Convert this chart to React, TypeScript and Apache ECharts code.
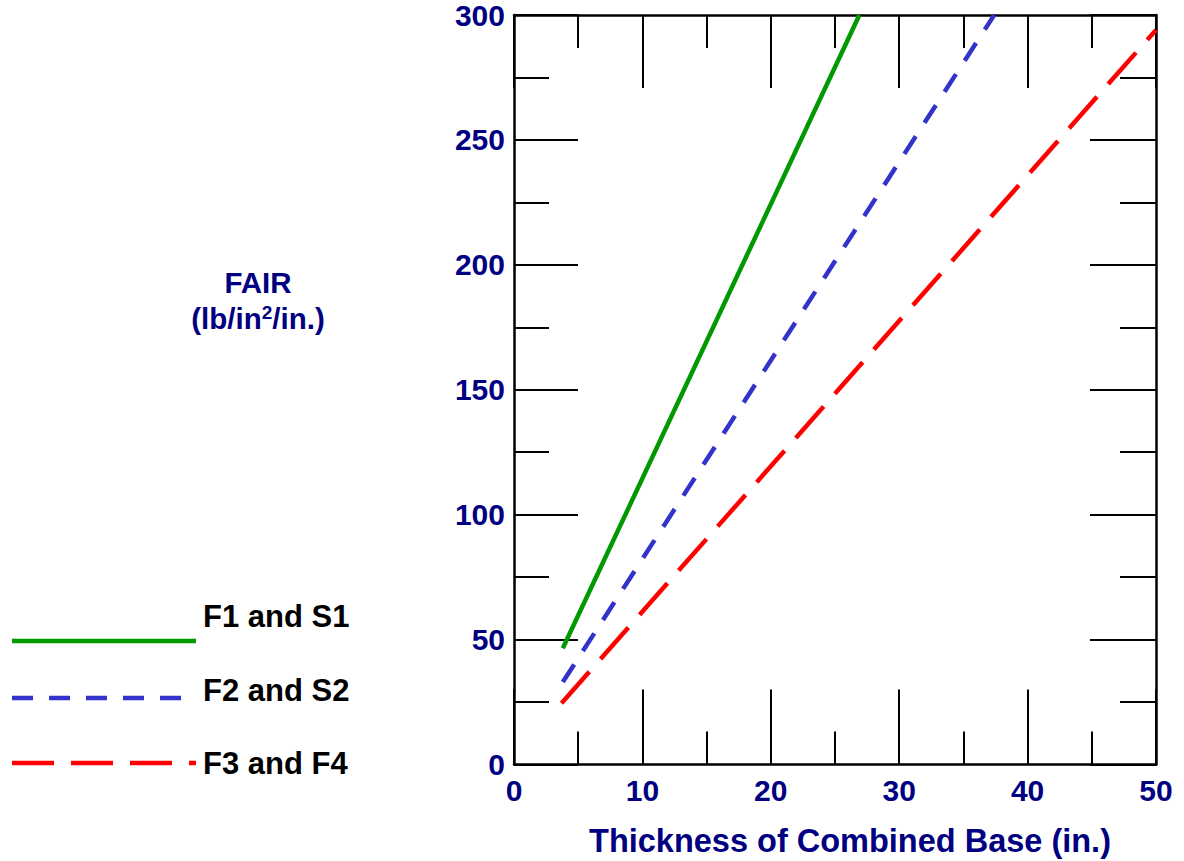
import React, { useEffect, useRef } from "react";
import * as echarts from "echarts";

// ---- data ----
const xMin = 0;
const xMax = 50;
const xInterval = 10;
const yMin = 0;
const yMax = 300;
const yInterval = 50;

const seriesNames = ["F1 and S1", "F2 and S2", "F3 and F4"];
// [thickness (in.), FAIR (lb/in^2/in.)]
const f1s1: number[][] = [
  [3.8, 46.5],
  [26.9, 300],
];
const f2s2: number[][] = [
  [3.8, 33],
  [37.4, 300],
];
const f3f4: number[][] = [
  [3.7, 24.5],
  [50, 294],
];

const xTitle = "Thickness of Combined Base (in.)";
const yTitle1 = "FAIR";
const yTitle2Parts = ["(lb/in", "2", "/in.)"];

const FONT = "'Liberation Sans', Arial, Helvetica, sans-serif";
const NAVY = "#000080";
const GREEN = "#009900";
const BLUE = "#3333cc";
const RED = "#ff0000";

export default function App() {
  const ref = useRef<HTMLDivElement>(null);

  useEffect(() => {
    if (!ref.current) return;
    const chart = echarts.init(ref.current, null, { renderer: "svg" });

    const axisLine = { show: true, onZero: false, lineStyle: { color: "#000", width: 2.5 } };
    const xAxisBase = {
      type: "value",
      min: xMin,
      max: xMax,
      interval: xInterval,
      splitLine: { show: false },
      axisLine,
    };
    const yAxisBase = {
      type: "value",
      min: yMin,
      max: yMax,
      interval: yInterval,
      splitLine: { show: false },
      axisLine,
    };
    const labelStyle = {
      color: NAVY,
      fontFamily: FONT,
      fontWeight: "bold",
      fontSize: 30,
    };

    const option: any = {
      animation: false,
      grid: { left: 514, right: 28, top: 15, bottom: 96.5, containLabel: false },
      xAxis: [
        {
          ...xAxisBase,
          position: "bottom",
          axisTick: { show: true, inside: true, length: 75, lineStyle: { color: "#000", width: 2 } },
          minorTick: { show: true, splitNumber: 2, length: 33, lineStyle: { color: "#000", width: 2 } },
          axisLabel: { ...labelStyle, margin: 11 },
        },
        {
          ...xAxisBase,
          position: "top",
          axisTick: { show: true, inside: true, length: 73, lineStyle: { color: "#000", width: 2 } },
          minorTick: { show: true, splitNumber: 2, length: 33, lineStyle: { color: "#000", width: 2 } },
          axisLabel: { show: false },
        },
      ],
      yAxis: [
        {
          ...yAxisBase,
          position: "left",
          axisTick: { show: true, inside: true, length: 64, lineStyle: { color: "#000", width: 2 } },
          minorTick: { show: true, splitNumber: 2, length: 35, lineStyle: { color: "#000", width: 2 } },
          axisLabel: { ...labelStyle, margin: 9, padding: [6, 0, 0, 0] },
        },
        {
          ...yAxisBase,
          position: "right",
          axisTick: { show: true, inside: true, length: 66, lineStyle: { color: "#000", width: 2 } },
          minorTick: { show: true, splitNumber: 2, length: 36, lineStyle: { color: "#000", width: 2 } },
          axisLabel: { show: false },
        },
      ],
      series: [
        {
          name: seriesNames[0],
          type: "line",
          data: f1s1,
          symbol: "none",
          clip: false,
          lineStyle: { color: GREEN, width: 4.5, type: "solid" },
        },
        {
          name: seriesNames[1],
          type: "line",
          data: f2s2,
          symbol: "none",
          clip: false,
          lineStyle: { color: BLUE, width: 4.5, type: [21, 16] },
        },
        {
          name: seriesNames[2],
          type: "line",
          data: f3f4,
          symbol: "none",
          clip: false,
          lineStyle: { color: RED, width: 4.5, type: [42, 17] },
        },
      ],
      graphic: [
        // axis titles
        {
          type: "text",
          x: 850,
          y: 841,
          style: {
            text: xTitle,
            fill: NAVY,
            font: `bold 32.5px ${FONT}`,
            textAlign: "center",
            textVerticalAlign: "middle",
          },
        },
        {
          type: "text",
          x: 258,
          y: 282,
          style: {
            text: yTitle1,
            fill: NAVY,
            font: `bold 29.5px ${FONT}`,
            textAlign: "center",
            textVerticalAlign: "middle",
          },
        },
        {
          type: "text",
          x: 258,
          y: 318,
          style: {
            text: `{a|${yTitle2Parts[0]}}{s|${yTitle2Parts[1]}}{a|${yTitle2Parts[2]}}`,
            textAlign: "center",
            textVerticalAlign: "middle",
            rich: {
              a: { fill: NAVY, fontFamily: FONT, fontWeight: "bold", fontSize: 29.5, verticalAlign: "bottom" },
              s: { fill: NAVY, fontFamily: FONT, fontWeight: "bold", fontSize: 19, verticalAlign: "top" },
            },
          },
        },
        // legend
        {
          type: "line",
          shape: { x1: 12, y1: 641, x2: 196, y2: 641 },
          style: { stroke: GREEN, lineWidth: 4.5 },
        },
        {
          type: "line",
          shape: { x1: 12, y1: 698, x2: 182, y2: 698 },
          style: { stroke: BLUE, lineWidth: 4.5, lineDash: [21, 16] },
        },
        {
          type: "line",
          shape: { x1: 12, y1: 763, x2: 196, y2: 763 },
          style: { stroke: RED, lineWidth: 4.5, lineDash: [42, 17] },
        },
        {
          type: "text",
          x: 203,
          y: 616,
          style: {
            text: seriesNames[0],
            fill: "#000",
            font: `bold 31px ${FONT}`,
            textAlign: "left",
            textVerticalAlign: "middle",
          },
        },
        {
          type: "text",
          x: 203,
          y: 690,
          style: {
            text: seriesNames[1],
            fill: "#000",
            font: `bold 31px ${FONT}`,
            textAlign: "left",
            textVerticalAlign: "middle",
          },
        },
        {
          type: "text",
          x: 203,
          y: 763,
          style: {
            text: seriesNames[2],
            fill: "#000",
            font: `bold 31px ${FONT}`,
            textAlign: "left",
            textVerticalAlign: "middle",
          },
        },
      ],
    };

    chart.setOption(option);
    return () => chart.dispose();
  }, []);

  return (
    <div
      ref={ref}
      style={{ position: "fixed", left: 0, top: 0, width: 1184, height: 861, background: "#fff" }}
    />
  );
}
